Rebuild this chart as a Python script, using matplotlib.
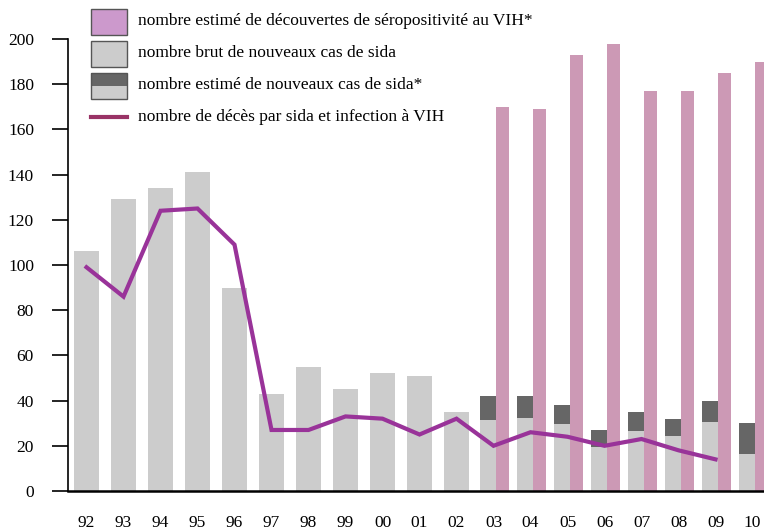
import matplotlib
matplotlib.use("Agg")
import matplotlib.pyplot as plt
from matplotlib.patches import Rectangle
from matplotlib.lines import Line2D

plt.rcParams['font.family'] = ['Liberation Serif', 'DejaVu Serif']

years = ["92", "93", "94", "95", "96", "97", "98", "99", "00", "01", "02",
         "03", "04", "05", "06", "07", "08", "09", "10"]
# raw number of new AIDS cases (light grey)
raw_aids = [106, 129, 134, 141, 90, 43, 55, 45, 52, 51, 35,
            31.5, 32.5, 29.5, 19.5, 26.5, 24.5, 30.5, 16.5]
# estimated number of new AIDS cases (total, 2003-2010)
est_aids = [42, 42, 38, 27, 35, 32, 40, 30]
# estimated number of HIV discoveries (2003-2010)
hiv_disc = [170, 169, 193, 198, 177, 177, 185, 190]
# deaths from AIDS and HIV infection (1992-2009)
deaths = [99, 86, 124, 125, 109, 27, 27, 33, 32, 25, 32,
          20, 26, 24, 20, 23, 18, 14]

W, H = 764, 530
fig = plt.figure(figsize=(W / 100, H / 100), dpi=100)
ax = fig.add_axes([68 / W, 39 / H, (W - 68) / W, (491 - 39) / H])

LIGHT = "#CCCCCC"
DARK = "#666666"
PINK = "#CC99B5"
PURPLE = "#993399"

n_full = 11
idx = list(range(len(years)))
# full-width grey bars 1992-2002
ax.bar(idx[:n_full], raw_aids[:n_full], width=0.69, color=LIGHT, zorder=2)
# 2003-2010: split bars
later = idx[n_full:]
gx = [i - 0.357 for i in later]
px_ = [i + 0.06 for i in later]
raw_late = raw_aids[n_full:]
extra = [e - r for e, r in zip(est_aids, raw_late)]
ax.bar(gx, raw_late, width=0.416, align='edge', color=LIGHT, zorder=2)
ax.bar(gx, extra, bottom=raw_late, width=0.416, align='edge', color=DARK, zorder=2)
ax.bar(px_, hiv_disc, width=0.36, align='edge', color=PINK, zorder=2)
# deaths line
ax.plot(idx[:len(deaths)], deaths, color=PURPLE, lw=3, zorder=3,
        solid_joinstyle='miter')

ax.set_xlim(-0.5, 18.31)
ax.set_ylim(0, 200)
ax.set_yticks(range(0, 201, 20))
ax.set_xticks(idx)
ax.set_xticklabels(years)
ax.tick_params(axis='y', length=11.5, width=1.2, pad=13, labelsize=12.5,
               direction='out')
ax.tick_params(axis='x', length=0, pad=17, labelsize=12.5)
for s in ['top', 'right']:
    ax.spines[s].set_visible(False)
ax.spines['left'].set_linewidth(1.2)
ax.spines['bottom'].set_linewidth(1.8)
ax.spines['bottom'].set_zorder(4)


def rect(x0, y0, x1, y1, **kw):
    fig.add_artist(Rectangle((x0 / W, 1 - y1 / H), (x1 - x0) / W, (y1 - y0) / H,
                             transform=fig.transFigure, **kw))


EDGE = "#555555"
rect(91, 9, 127, 35, facecolor="#CC99CC", edgecolor=EDGE, lw=1)
rect(91, 41, 127, 67, facecolor=LIGHT, edgecolor=EDGE, lw=1)
rect(91, 86, 127, 99, facecolor=LIGHT, edgecolor="none")
rect(91, 73, 127, 86, facecolor=DARK, edgecolor="none")
rect(91, 73, 127, 99, facecolor="none", edgecolor=EDGE, lw=1)
fig.add_artist(Line2D([91 / W, 127 / W], [1 - 117 / H, 1 - 117 / H],
                      transform=fig.transFigure, color="#993366", lw=3))

labels = ["nombre estimé de découvertes de séropositivité au VIH*",
          "nombre brut de nouveaux cas de sida",
          "nombre estimé de nouveaux cas de sida*",
          "nombre de décès par sida et infection à VIH"]
for lab, yc in zip(labels, [21, 53, 85, 117]):
    fig.text(138 / W, 1 - yc / H, lab, fontsize=12.5, va='center', ha='left')

fig.savefig("out.png", dpi=100)
